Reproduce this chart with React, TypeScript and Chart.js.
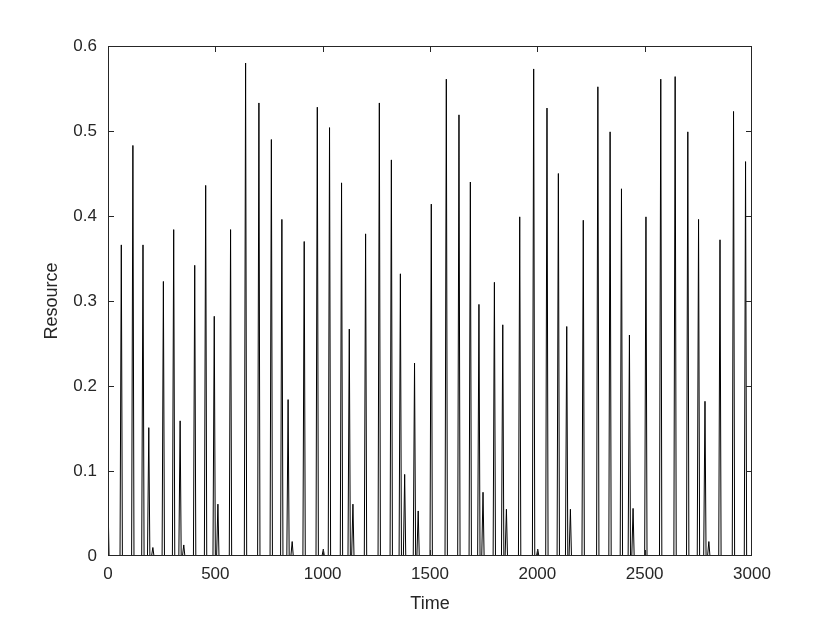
import React, { useEffect, useRef } from 'react';
import { Chart, registerables } from 'chart.js';

Chart.register(...registerables);

// Value at t = 0 (decays right away)
const startTime = 0;
const startValue = 0.065;

// Times of the resource peaks
const peakTimes = [
  62, 116, 163, 190, 209, 258, 306, 336, 353, 404, 455, 495, 512, 571, 641,
  703, 761, 810, 839, 858, 914, 975, 1003, 1032, 1088, 1124, 1141, 1200, 1264,
  1320, 1362, 1382, 1428, 1445, 1506, 1576, 1635, 1688, 1728, 1747, 1800, 1839,
  1856, 1918, 1983, 2002, 2045, 2098, 2137, 2154, 2214, 2282, 2339, 2392, 2429,
  2446, 2506, 2575, 2642, 2701, 2751, 2781, 2799, 2851, 2914, 2970,
];

// Heights of the resource peaks
const peakValues = [
  0.366, 0.483, 0.366, 0.151, 0.010, 0.323, 0.384, 0.159, 0.013, 0.342, 0.436,
  0.282, 0.061, 0.384, 0.580, 0.533, 0.490, 0.396, 0.184, 0.017, 0.370, 0.528,
  0.008, 0.504, 0.439, 0.267, 0.061, 0.379, 0.533, 0.466, 0.332, 0.096, 0.227,
  0.053, 0.414, 0.561, 0.519, 0.440, 0.296, 0.075, 0.322, 0.272, 0.055, 0.399,
  0.573, 0.008, 0.527, 0.450, 0.270, 0.055, 0.395, 0.552, 0.499, 0.432, 0.260,
  0.056, 0.399, 0.561, 0.564, 0.499, 0.396, 0.182, 0.017, 0.372, 0.523, 0.464,
];

const xTicks = [0, 500, 1000, 1500, 2000, 2500, 3000];
const yTicks = [0, 0.1, 0.2, 0.3, 0.4, 0.5, 0.6];

const xLabel = 'Time';
const yLabel = 'Resource';

// Spike shape: time before the peak where it leaves zero, time after when it returns
const riseSpan = 6;
const fallSpan = 5;

function buildSeries() {
  const pts: { x: number; y: number }[] = [];
  pts.push({ x: startTime, y: startValue });
  pts.push({ x: startTime + fallSpan, y: 0 });
  peakTimes.forEach((t, i) => {
    pts.push({ x: t - riseSpan, y: 0 });
    pts.push({ x: t, y: peakValues[i] });
    pts.push({ x: t + fallSpan, y: 0 });
  });
  pts.push({ x: xTicks[xTicks.length - 1], y: 0 });
  return pts;
}

const AXIS_COLOR = '#262626';
const FONT = '"Liberation Sans", Arial, Helvetica, sans-serif';

const boxPlugin = {
  id: 'matlabBox',
  afterDatasetsDraw(chart: any) {
    const { ctx, chartArea, scales } = chart;
    const { left, right, top, bottom } = chartArea;
    const xs = scales.x;
    const ys = scales.y;
    const tick = 6;
    ctx.save();
    ctx.strokeStyle = AXIS_COLOR;
    ctx.lineWidth = 1;
    ctx.beginPath();
    ctx.rect(left + 0.5, top + 0.5, right - left - 1, bottom - top - 1);
    ctx.stroke();
    ctx.beginPath();
    xTicks.forEach((v) => {
      const px = Math.min(Math.round(xs.getPixelForValue(v)), right - 1) + 0.5;
      ctx.moveTo(px, bottom);
      ctx.lineTo(px, bottom - tick);
      ctx.moveTo(px, top);
      ctx.lineTo(px, top + tick);
    });
    yTicks.forEach((v) => {
      const py = Math.min(Math.round(ys.getPixelForValue(v)), bottom - 1) + 0.5;
      ctx.moveTo(left, py);
      ctx.lineTo(left + tick, py);
      ctx.moveTo(right, py);
      ctx.lineTo(right - tick, py);
    });
    ctx.stroke();
    ctx.restore();
  },
};

export default function App() {
  const canvasRef = useRef<HTMLCanvasElement | null>(null);

  useEffect(() => {
    document.body.style.margin = '0';
    const canvas = canvasRef.current;
    if (!canvas) return;
    const chart = new Chart(canvas, {
      type: 'line',
      data: {
        datasets: [
          {
            data: buildSeries(),
            borderColor: '#000000',
            borderWidth: 1,
            pointRadius: 0,
            fill: false,
            tension: 0,
          },
        ],
      },
      options: {
        animation: false,
        responsive: false,
        devicePixelRatio: 1,
        parsing: false,
        normalized: true,
        layout: { padding: { left: 0, right: 78, top: 46, bottom: 0 } },
        plugins: {
          legend: { display: false },
          tooltip: { enabled: false },
        },
        scales: {
          x: {
            type: 'linear',
            min: 0,
            max: 3000,
            afterFit: (s: any) => {
              s.height = 67;
            },
            afterBuildTicks: (s: any) => {
              s.ticks = xTicks.map((v) => ({ value: v }));
            },
            grid: { display: false, drawTicks: false },
            border: { display: false },
            ticks: {
              color: AXIS_COLOR,
              font: { family: FONT, size: 17 },
              padding: 8,
              maxRotation: 0,
              autoSkip: false,
              callback: (v: any) => String(v),
            },
            title: {
              display: true,
              text: xLabel,
              color: AXIS_COLOR,
              font: { family: FONT, size: 18 },
              padding: { top: 0, bottom: 8 },
            },
          },
          y: {
            type: 'linear',
            min: 0,
            max: 0.6,
            afterFit: (s: any) => {
              s.width = 108;
            },
            afterBuildTicks: (s: any) => {
              s.ticks = yTicks.map((v) => ({ value: v }));
            },
            grid: { display: false, drawTicks: false },
            border: { display: false },
            ticks: {
              color: AXIS_COLOR,
              font: { family: FONT, size: 17 },
              padding: 11,
              autoSkip: false,
              callback: (v: any) => String(Number(Number(v).toFixed(1))),
            },
            title: {
              display: true,
              text: yLabel,
              color: AXIS_COLOR,
              font: { family: FONT, size: 18 },
              padding: { top: 41, bottom: 0 },
            },
          },
        },
      },
      plugins: [boxPlugin],
    });
    return () => chart.destroy();
  }, []);

  return (
    <div style={{ position: 'absolute', left: 0, top: 0, width: 830, height: 623, background: '#fff' }}>
      <canvas ref={canvasRef} width={830} height={623} />
    </div>
  );
}
